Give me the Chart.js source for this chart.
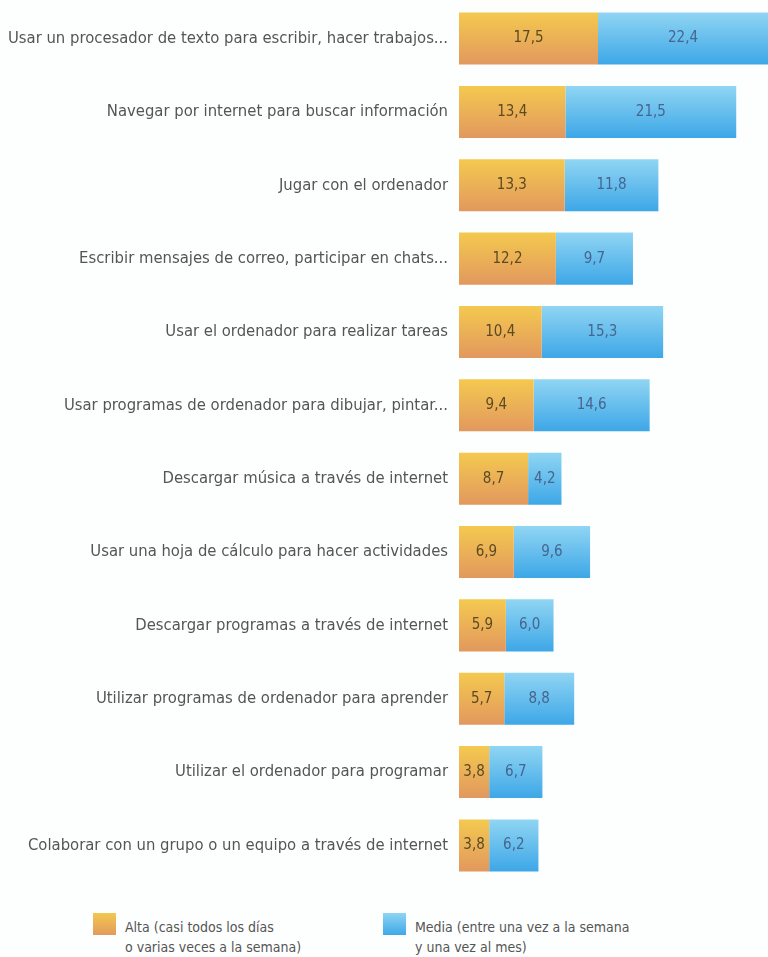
<!DOCTYPE html>
<html>
<head>
<meta charset="utf-8">
<script src="https://cdn.jsdelivr.net/npm/chart.js@4"></script>
<style>
  html, body { margin: 0; padding: 0; background: #fdfefe; }
  body { width: 768px; height: 957px; overflow: hidden; position: relative; font-family: "DejaVu Sans Condensed", sans-serif; }
  #wrap { position: absolute; left: 0; top: -11px; width: 768px; height: 906px; }
  .legend { position: absolute; top: 917px; font-size: 14px; line-height: 20px; color: #555; }
  .swatch { position: absolute; width: 23px; height: 22px; top: -4px; }
  .legend span { position: absolute; white-space: nowrap; }
</style>
</head>
<body>
<div id="wrap"><canvas id="chart"></canvas></div>
<div class="legend" style="left:93px;"><div class="swatch" style="background:linear-gradient(#f3c851,#e29a5c);"></div><span style="left:32px;">Alta (casi todos los días<br>o varias veces a la semana)</span></div>
<div class="legend" style="left:383px;"><div class="swatch" style="background:linear-gradient(#8fd5f3,#3ea8e8);"></div><span style="left:32px;">Media (entre una vez a la semana<br>y una vez al mes)</span></div>
<script>
var categories = [
  "Usar un procesador de texto para escribir, hacer trabajos...",
  "Navegar por internet para buscar información",
  "Jugar con el ordenador",
  "Escribir mensajes de correo, participar en chats...",
  "Usar el ordenador para realizar tareas",
  "Usar programas de ordenador para dibujar, pintar...",
  "Descargar música a través de internet",
  "Usar una hoja de cálculo para hacer actividades",
  "Descargar programas a través de internet",
  "Utilizar programas de ordenador para aprender",
  "Utilizar el ordenador para programar",
  "Colaborar con un grupo o un equipo a través de internet"
];
var alta = [17.5, 13.4, 13.3, 12.2, 10.4, 9.4, 8.7, 6.9, 5.9, 5.7, 3.8, 3.8];
var media = [22.4, 21.5, 11.8, 9.7, 15.3, 14.6, 4.2, 9.6, 6.0, 8.8, 6.7, 6.2];

function barGradient(context, top, bottom, fallback) {
  var chart = context.chart;
  if (!chart.chartArea || !chart.scales.y) return fallback;
  var yc = chart.scales.y.getPixelForValue(context.dataIndex);
  var g = chart.ctx.createLinearGradient(0, yc - 26, 0, yc + 26);
  g.addColorStop(0, top);
  g.addColorStop(1, bottom);
  return g;
}

var valueLabels = {
  id: "valueLabels",
  afterDatasetsDraw: function(chart) {
    var ctx = chart.ctx;
    var right = chart.chartArea.right;
    ctx.save();
    ctx.font = "15px 'DejaVu Sans Condensed', sans-serif";
    ctx.textAlign = "center";
    ctx.textBaseline = "middle";
    chart.data.datasets.forEach(function(ds, di) {
      chart.getDatasetMeta(di).data.forEach(function(bar, i) {
        var x0 = bar.base, x1 = Math.min(bar.x, right);
        ctx.fillStyle = di === 0 ? "#5c4a22" : "#46658f";
        ctx.fillText(ds.data[i].toFixed(1).replace(".", ","), (x0 + x1) / 2, bar.y);
      });
    });
    ctx.restore();
  }
};

new Chart(document.getElementById("chart"), {
  type: "bar",
  data: {
    labels: categories,
    datasets: [
      {
        label: "Alta",
        data: alta,
        backgroundColor: function(c) { return barGradient(c, "#f4c94f", "#e2985e", "#eeb357"); },
        barPercentage: 0.71,
        categoryPercentage: 1
      },
      {
        label: "Media",
        data: media,
        backgroundColor: function(c) { return barGradient(c, "#90d5f3", "#3da7e7", "#63bdee"); },
        barPercentage: 0.71,
        categoryPercentage: 1
      }
    ]
  },
  options: {
    indexAxis: "y",
    responsive: true,
    maintainAspectRatio: false,
    animation: false,
    layout: { padding: { top: 1, right: 0, bottom: 3, left: 0 } },
    plugins: { legend: { display: false }, tooltip: { enabled: false } },
    scales: {
      x: { stacked: true, display: false, min: 0, max: 38.9 },
      y: {
        stacked: true,
        grid: { display: false },
        border: { display: false },
        ticks: {
          color: "#555",
          padding: 3,
          font: { family: "'DejaVu Sans Condensed', sans-serif", size: 16.5 }
        },
        afterFit: function(scale) { scale.width = 459; }
      }
    }
  },
  plugins: [valueLabels]
});
</script>
</body>
</html>
